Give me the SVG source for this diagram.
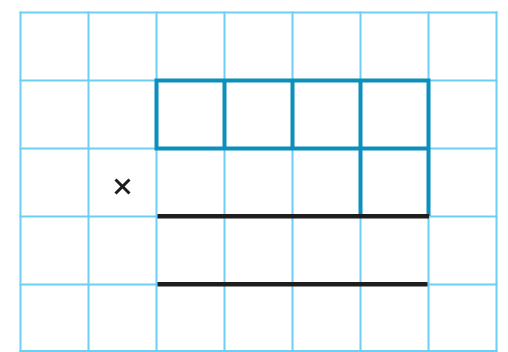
<svg xmlns="http://www.w3.org/2000/svg" width="508" height="352" viewBox="0 0 508 352">
<style>
.grid{stroke:#6dcff6;stroke-width:2;fill:none}
.teal{stroke:#0b8fbc;stroke-width:4;fill:none;stroke-linecap:square}
.bar{stroke:#1e1e1e;stroke-width:4.5;fill:none}
.mark{stroke:#1e1e1e;stroke-width:3;fill:none}
</style>
<rect width="508" height="352" fill="#ffffff"/>
<g id="grid" class="grid">
<line x1="20.5" y1="11.5" x2="20.5" y2="352"/>
<line x1="88.5" y1="11.5" x2="88.5" y2="352"/>
<line x1="156.5" y1="11.5" x2="156.5" y2="352"/>
<line x1="224.5" y1="11.5" x2="224.5" y2="352"/>
<line x1="292.5" y1="11.5" x2="292.5" y2="352"/>
<line x1="360.5" y1="11.5" x2="360.5" y2="352"/>
<line x1="428.5" y1="11.5" x2="428.5" y2="352"/>
<line x1="496.5" y1="11.5" x2="496.5" y2="352"/>
<line x1="19.5" y1="12.5" x2="497.5" y2="12.5"/>
<line x1="19.5" y1="80.5" x2="497.5" y2="80.5"/>
<line x1="19.5" y1="148.5" x2="497.5" y2="148.5"/>
<line x1="19.5" y1="216.5" x2="497.5" y2="216.5"/>
<line x1="19.5" y1="284.5" x2="497.5" y2="284.5"/>
<line x1="19.5" y1="351" x2="497.5" y2="351"/>
</g>
<g id="shape" class="teal">
<path d="M156.5 80.5 H428.5 V214 M156.5 80.5 V148.5 H428.5 M224.5 80.5 V148.5 M292.5 80.5 V148.5 M360.5 80.5 V214"/>
</g>
<g id="bars" class="bar">
<line x1="157.5" y1="216.3" x2="429" y2="216.3"/>
<line x1="157.5" y1="284.3" x2="427.5" y2="284.3"/>
</g>
<g id="cross" class="mark">
<line x1="115.5" y1="179.5" x2="129.5" y2="193.5"/>
<line x1="129.5" y1="179.5" x2="115.5" y2="193.5"/>
</g>
</svg>
